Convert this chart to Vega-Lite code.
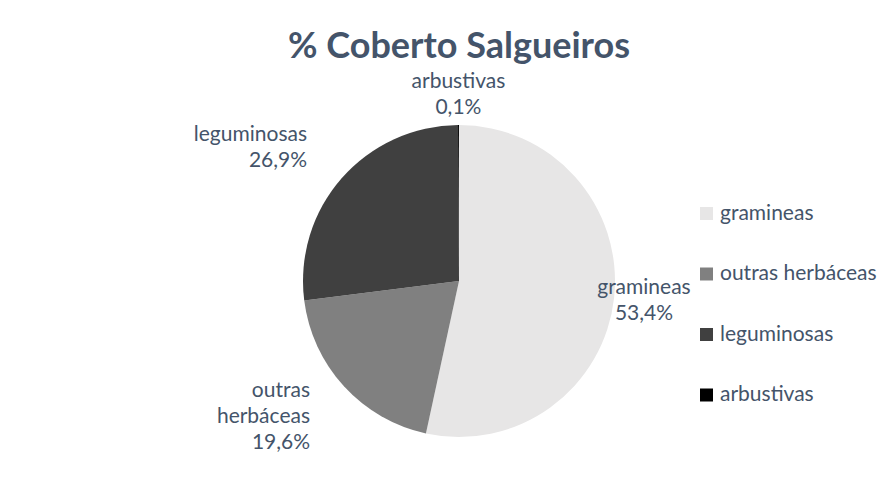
{
  "$schema": "https://vega.github.io/schema/vega-lite/v6.json",
  "width": 400,
  "height": 360,
  "autosize": {"type": "none"},
  "padding": {"left": 259, "top": 101, "right": 237, "bottom": 19},
  "background": "white",
  "title": {
    "text": "% Coberto Salgueiros",
    "font": "Lato",
    "fontSize": 36,
    "fontWeight": "bold",
    "color": "#44546A",
    "anchor": "middle",
    "frame": "group",
    "baseline": "alphabetic",
    "offset": -23
  },
  "data": {
    "values": [
      {"category": "gramineas", "share": 0.534},
      {"category": "outras herbáceas", "share": 0.196},
      {"category": "leguminosas", "share": 0.269},
      {"category": "arbustivas", "share": 0.001}
    ]
  },
  "transform": [{"window": [{"op": "row_number", "as": "rank"}]}],
  "encoding": {
    "theta": {"field": "share", "type": "quantitative", "stack": true},
    "order": {"field": "rank", "type": "quantitative"}
  },
  "layer": [
    {
      "mark": {"type": "arc", "radius": 156, "stroke": null},
      "encoding": {
        "color": {
          "field": "category",
          "type": "nominal",
          "scale": {
            "domain": ["gramineas", "outras herbáceas", "leguminosas", "arbustivas"],
            "range": ["#E7E6E6", "#808080", "#404040", "#000000"]
          },
          "legend": {
            "orient": "none",
            "legendX": 437,
            "legendY": 102,
            "title": null,
            "symbolType": "square",
            "symbolSize": 169,
            "symbolStrokeWidth": 0,
            "labelFont": "Lato",
            "labelFontSize": 21,
            "labelColor": "#44546A",
            "rowPadding": 38.5,
            "labelOffset": 3
          }
        }
      }
    },
    {
      "transform": [
        {"calculate": "replace(datum.category, ' ', '\\n') + '\\n' + format(datum.share, '.1%')", "as": "label"}
      ],
      "mark": {
        "type": "text",
        "radius": {"expr": "sin(PI * (datum.share_start + datum.share_end)) < -0.3 ? 202 : 186"},
        "baseline": "middle",
        "lineBreak": "\n",
        "lineHeight": 26,
        "font": "Lato",
        "fontSize": 21,
        "color": "#44546A",
        "dy": {"expr": "-(length(split(datum.label, '\\n')) - 1) * 13"},
        "align": {"expr": "sin(PI * (datum.share_start + datum.share_end)) < -0.3 ? 'right' : 'center'"}
      },
      "encoding": {
        "detail": {"field": "category", "type": "nominal"},
        "text": {"field": "label", "type": "nominal"}
      }
    }
  ],
  "config": {
    "locale": {"number": {"decimal": ",", "thousands": ".", "grouping": [3], "currency": ["", " €"]}},
    "view": {"stroke": null}
  }
}
